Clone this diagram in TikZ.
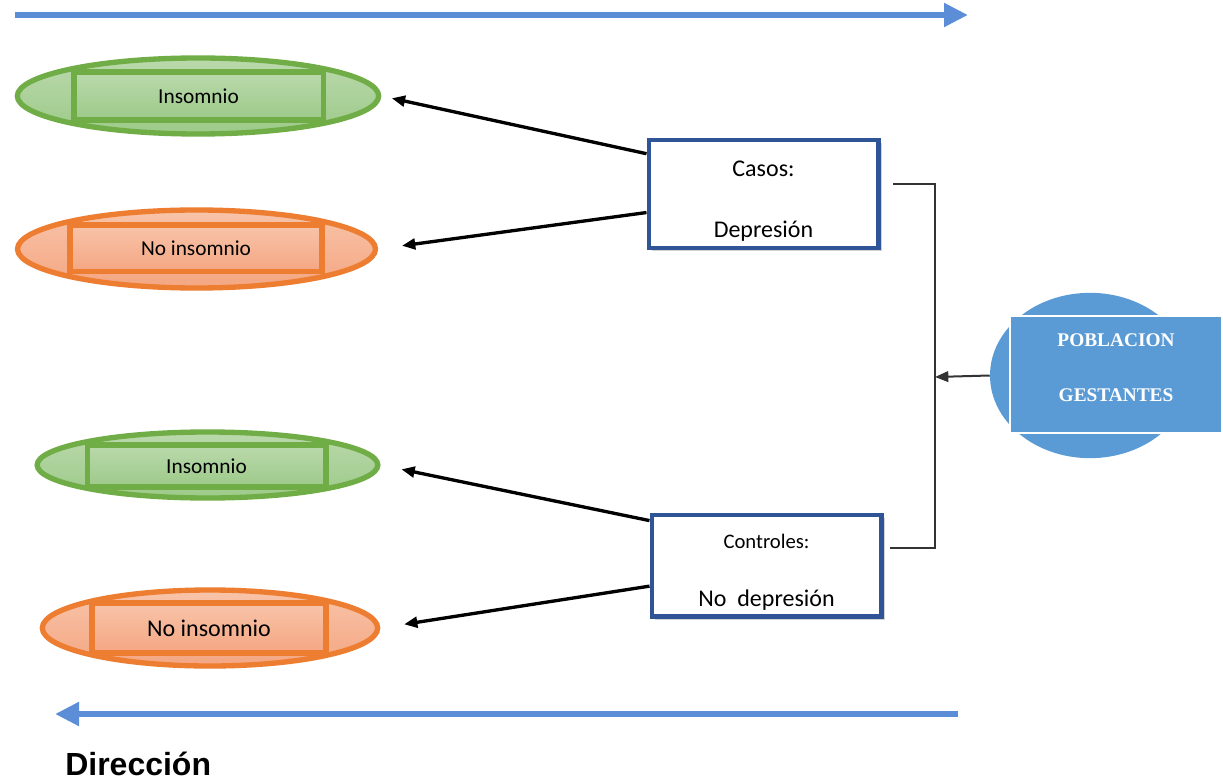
\documentclass[tikz,border=0pt]{standalone}
\usepackage{fontspec}
\setmainfont{Carlito}
\newfontfamily\popfont{Liberation Serif}
\newfontfamily\dirfont{Liberation Sans}
\usetikzlibrary{shapes.geometric,arrows.meta,shadows}
\definecolor{grnline}{HTML}{70AD47}
\definecolor{grntop}{HTML}{BAD9AC}
\definecolor{grnbot}{HTML}{9DCA89}
\definecolor{orgline}{HTML}{ED7D31}
\definecolor{orgtop}{HTML}{F8C4A9}
\definecolor{orgbot}{HTML}{F4A682}
\definecolor{boxline}{HTML}{2F5597}
\definecolor{dirblue}{HTML}{5B8ED6}
\definecolor{popblue}{HTML}{5B9BD5}
\begin{document}
\begin{tikzpicture}[x=0.75pt,y=-0.75pt,
  oval/.style={ellipse, line width=4pt, inner sep=0pt},
  bar/.style={rectangle, line width=4pt, inner sep=0pt},
  grn/.style={draw=grnline, top color=grntop, bottom color=grnbot},
  org/.style={draw=orgline, top color=orgtop, bottom color=orgbot},
  grupo/.style={rectangle, draw=boxline, line width=3.5pt, fill=white, inner sep=0pt,
    minimum width=172pt,
    drop shadow={shadow xshift=2.5pt, shadow yshift=-2.5pt, opacity=.35}},
  flecha/.style={-{Triangle[length=10pt,width=8pt]}, line width=2.5pt},
  dir/.style={draw=dirblue, line width=5pt, -{Triangle[length=18pt,width=17pt]}},
  llave/.style={line width=1.3pt, draw=black!80}]
\useasboundingbox (0,0) rectangle (1223,780);

% direccion
\coordinate (dir0) at (15,15);
\coordinate (dir1) at (968,15);
\coordinate (dir2) at (958,714);
\coordinate (dir3) at (55,714);
\draw[dir] (dir0) -- (dir1);
\draw[dir] (dir2) -- (dir3);
\node[anchor=base west, font=\dirfont\bfseries\fontsize{24}{28}\selectfont, inner sep=0pt] (dirtxt) at (65,775) {Dirección};

% elipses
\node[oval, grn, minimum width=271pt, minimum height=57pt] (ins1) at (198,96){};
\node[bar, grn, minimum width=187pt, minimum height=36pt, font=\fontsize{16}{19}\selectfont] (ins1t) at (198.5,96){Insomnio};
\node[oval, org, minimum width=268.5pt, minimum height=58.5pt] (noins1) at (196.5,249){};
\node[bar, org, minimum width=189pt, minimum height=35pt, font=\fontsize{16}{19}\selectfont] (noins1t) at (196,248.5){No insomnio};
\node[oval, grn, minimum width=255.5pt, minimum height=49.5pt] (ins2) at (207.5,465){};
\node[bar, grn, minimum width=179pt, minimum height=31.5pt, font=\fontsize{16}{19}\selectfont] (ins2t) at (206.5,466){Insomnio};
\node[oval, org, minimum width=251.5pt, minimum height=57pt] (noins2) at (210,628){};
\node[bar, org, minimum width=175.5pt, minimum height=37.5pt, font=\fontsize{18}{21}\selectfont] (noins2t) at (209,628){No insomnio};

% grupos
\node[grupo, minimum height=81pt] (casos) at (763.5,194){};
\node[align=center, font=\fontsize{18}{21.6}\selectfont] (casostxt) at (763.5,201){Casos:\\[24pt]Depresión};
\node[grupo, minimum height=76pt] (controles) at (766.5,565.5){};
\node[align=center] (controlestxt) at (766.5,572.5){{\fontsize{15.5}{18}\selectfont Controles:}\\[29.5pt]{\fontsize{18}{21.6}\selectfont No\ \ depresión}};

\draw[flecha, shorten >=8pt] (casos.161) -- (ins1.east);
\draw[flecha, shorten >=18pt] (casos.189) -- (noins1.east);
\draw[flecha, shorten >=16pt] (controles.159) -- (ins2.east);
\draw[flecha, shorten >=18pt] (controles.190) -- (noins2.east);

% poblacion
\node[ellipse, fill=popblue, minimum width=150pt, minimum height=124pt, inner sep=0pt] (popell) at (1090,375.5){};
\node[rectangle, fill=popblue, draw=white, line width=1.5pt, minimum width=159pt, minimum height=88pt, inner sep=0pt] (pop) at (1116,374.5){};
\node[align=center, text=white, font=\popfont\bfseries\fontsize{14.5}{17}\selectfont] (poptxt) at (1116,368){POBLACION\\[24pt]GESTANTES};

% llave
\coordinate (lla0) at (893,184);
\coordinate (lla1) at (935,184);
\coordinate (lla2) at (935,548);
\coordinate (lla3) at (890,548);
\coordinate (llam) at (935,377);
\draw[llave] (lla0) -- (lla1) -- (lla2) -- (lla3);
\draw[llave, line width=1.5pt, -{Triangle[length=10pt,width=8pt]}] (popell.west) -- (llam);

\end{tikzpicture}
\end{document}
